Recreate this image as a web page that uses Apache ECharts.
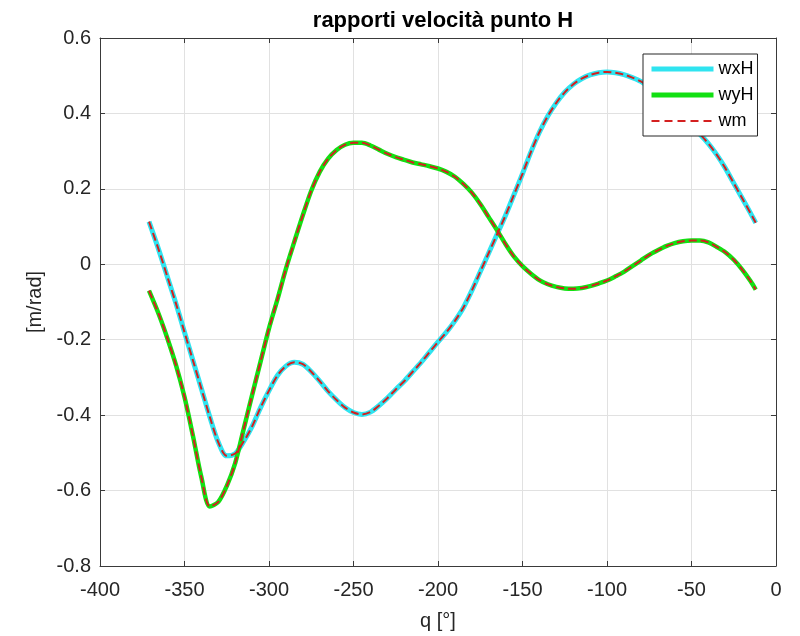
<!DOCTYPE html>
<html>
<head>
<meta charset="utf-8">
<title>rapporti velocità punto H</title>
<script src="https://cdn.jsdelivr.net/npm/echarts@6/dist/echarts.min.js"></script>
<style>
  html, body { margin: 0; padding: 0; background: #ffffff; }
  #chart { width: 800px; height: 636px; }
</style>
</head>
<body>
<div id="chart"></div>
<script>
// Crank angle q [deg]
const q = [-371, -365, -360, -355, -350, -345, -340, -335, -330, -325, -320, -315, -310, -305,
  -300, -295, -290, -285, -280, -275, -270, -265, -260, -255, -250, -245, -240, -235,
  -230, -225, -220, -215, -210, -205, -200, -195, -190, -185, -180, -175, -170, -165,
  -160, -155, -150, -145, -140, -135, -130, -125, -120, -115, -110, -105, -100, -95,
  -90, -85, -80, -75, -70, -65, -60, -55, -50, -45, -40, -35, -30, -25, -20, -15, -12];

// Velocity ratio, x component of point H [m/rad]
const wxH = [0.113, 0.035, -0.035, -0.105, -0.18, -0.255, -0.33, -0.405, -0.472, -0.508, -0.502, -0.47, -0.43, -0.38,
  -0.335, -0.295, -0.27, -0.26, -0.265, -0.285, -0.31, -0.337, -0.36, -0.38, -0.393, -0.398, -0.392, -0.375,
  -0.355, -0.332, -0.31, -0.285, -0.26, -0.233, -0.206, -0.18, -0.15, -0.115, -0.07, -0.02, 0.03, 0.08,
  0.13, 0.185, 0.24, 0.298, 0.35, 0.393, 0.428, 0.456, 0.477, 0.492, 0.502, 0.508, 0.51, 0.508,
  0.503, 0.495, 0.485, 0.47, 0.455, 0.435, 0.412, 0.39, 0.367, 0.345, 0.32, 0.29, 0.255, 0.215, 0.175, 0.135, 0.11];

// Velocity ratio, y component of point H [m/rad]
const wyH = [-0.07, -0.135, -0.198, -0.268, -0.352, -0.455, -0.565, -0.642, -0.63, -0.588, -0.527, -0.437, -0.347, -0.258,
  -0.17, -0.093, -0.012, 0.06, 0.13, 0.195, 0.245, 0.28, 0.303, 0.317, 0.322, 0.322, 0.315, 0.304,
  0.293, 0.284, 0.277, 0.27, 0.265, 0.26, 0.254, 0.245, 0.232, 0.213, 0.19, 0.16, 0.125, 0.09,
  0.053, 0.02, -0.005, -0.025, -0.042, -0.053, -0.06, -0.064, -0.065, -0.063, -0.058, -0.051, -0.043, -0.032,
  -0.02, -0.005, 0.01, 0.025, 0.037, 0.048, 0.056, 0.061, 0.063, 0.063, 0.058, 0.046, 0.032, 0.012, -0.014, -0.045, -0.067];

const xTicks = { min: -400, max: 0, interval: 50 };
const yTicks = { min: -0.8, max: 0.6, interval: 0.2 };

const FONT = "'Liberation Sans', Arial, Helvetica, sans-serif";
const AXIS_COLOR = '#3a3a3a';
const TEXT_COLOR = '#262626';
const GRID_COLOR = '#e1e1e1';

const CYAN = '#2fe4f0';
const GREEN = '#12e012';
const RED = '#d42020';

function pairs(xs, ys) {
  return xs.map((x, i) => [x, ys[i]]);
}

function axisBase(extra) {
  return Object.assign({
    type: 'value',
    axisLine: { show: true, onZero: false, lineStyle: { color: AXIS_COLOR, width: 1 } },
    axisTick: { show: true, inside: true, length: 5, lineStyle: { color: AXIS_COLOR, width: 1 } },
    axisLabel: { show: false },
    splitLine: { show: false }
  }, extra);
}

const labelStyle = { show: true, color: TEXT_COLOR, fontSize: 20, fontFamily: FONT,
  showMinLabel: true, showMaxLabel: true };

const chart = echarts.init(document.getElementById('chart'), null, { renderer: 'canvas' });

chart.setOption({
  animation: false,
  backgroundColor: '#ffffff',
  title: {
    text: 'rapporti velocità punto H',
    left: 438,
    top: 5,
    textAlign: 'center',
    textStyle: { fontFamily: FONT, fontWeight: 'bold', fontSize: 22, color: '#000000' }
  },
  grid: { left: 100, right: 24, top: 38, bottom: 68, containLabel: false },
  legend: {
    data: [
      { name: 'wxH', lineStyle: { color: CYAN, width: 5 } },
      { name: 'wyH', lineStyle: { color: GREEN, width: 5 } },
      { name: 'wm', lineStyle: { color: RED, width: 2, type: [8, 5] } }
    ],
    orient: 'vertical',
    left: 643,
    top: 54,
    padding: [6, 4, 6, 6],
    itemWidth: 62,
    itemHeight: 14,
    itemGap: 8,
    itemStyle: { opacity: 0 },
    backgroundColor: '#ffffff',
    borderColor: '#262626',
    borderWidth: 1,
    textStyle: { fontFamily: FONT, fontSize: 18, color: '#000000', lineHeight: 18 }
  },
  xAxis: [
    axisBase(Object.assign({}, xTicks, {
      position: 'bottom',
      axisLabel: Object.assign({}, labelStyle, { margin: 14 }),
      splitLine: { show: true, lineStyle: { color: GRID_COLOR, width: 1 } },
      name: 'q [°]',
      nameLocation: 'middle',
      nameGap: 45,
      nameTextStyle: { fontFamily: FONT, fontSize: 20, color: TEXT_COLOR }
    })),
    axisBase(Object.assign({}, xTicks, { position: 'top' }))
  ],
  yAxis: [
    axisBase(Object.assign({}, yTicks, {
      position: 'left',
      axisLabel: Object.assign({}, labelStyle, {
        margin: 9,
        formatter: v => (Math.abs(v) < 1e-9 ? '0' : String(Math.round(v * 10) / 10))
      }),
      splitLine: { show: true, lineStyle: { color: GRID_COLOR, width: 1 } },
      name: '[m/rad]',
      nameLocation: 'middle',
      nameGap: 49,
      nameRotate: 90,
      nameTextStyle: { fontFamily: FONT, fontSize: 20, color: TEXT_COLOR }
    })),
    axisBase(Object.assign({}, yTicks, { position: 'right' }))
  ],
  series: [
    {
      name: 'wxH', type: 'line', data: pairs(q, wxH),
      showSymbol: false, symbol: 'none', smooth: 0.3,
      color: CYAN,
      lineStyle: { color: CYAN, width: 5 }
    },
    {
      name: 'wyH', type: 'line', data: pairs(q, wyH),
      showSymbol: false, symbol: 'none', smooth: 0.3,
      color: GREEN,
      lineStyle: { color: GREEN, width: 4.5 }
    },
    {
      name: 'wm', type: 'line', data: pairs(q, wxH),
      showSymbol: false, symbol: 'none', smooth: 0.3,
      color: RED,
      lineStyle: { color: RED, width: 2, type: [8, 4] }
    },
    {
      name: 'wm', type: 'line', data: pairs(q, wyH),
      showSymbol: false, symbol: 'none', smooth: 0.3,
      color: RED,
      lineStyle: { color: RED, width: 2, type: [8, 4] }
    }
  ]
});
</script>
</body>
</html>
